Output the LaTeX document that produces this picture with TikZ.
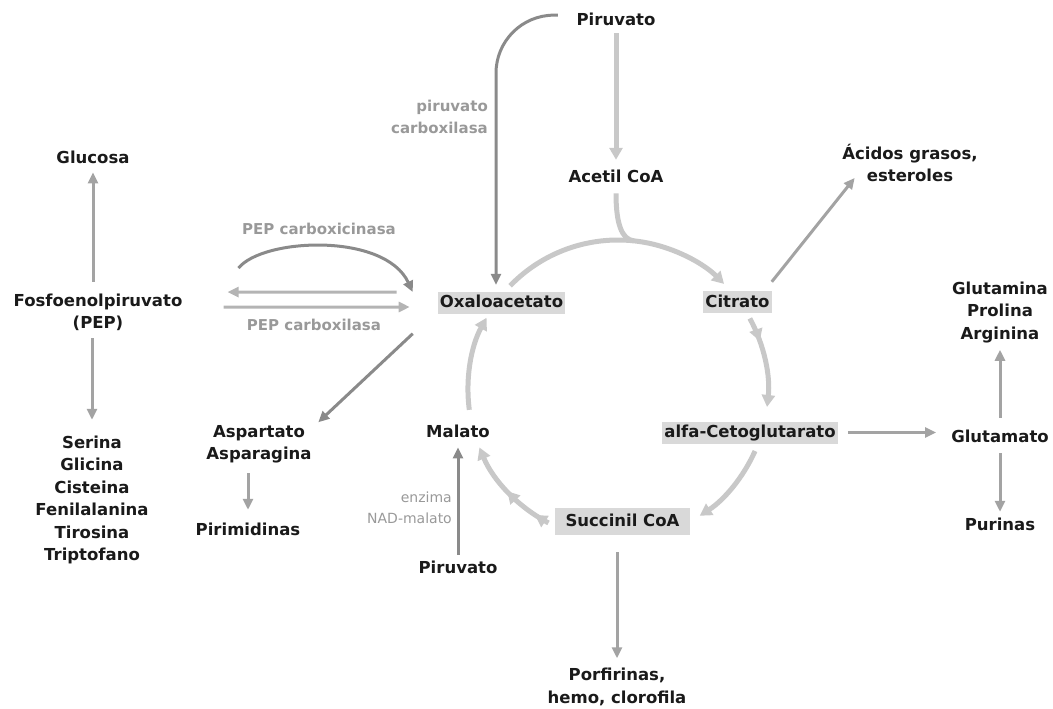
\documentclass[tikz,border=0pt]{standalone}
\usepackage{fontspec}
\setmainfont{DejaVu Sans}
\usetikzlibrary{arrows.meta,calc,decorations.markings}
\definecolor{txt}{HTML}{1A1A1A}
\definecolor{enzgray}{HTML}{999999}
\definecolor{boxgray}{HTML}{D9D9D9}
\definecolor{cycgray}{HTML}{C8C8C8}
\definecolor{medgray}{HTML}{A3A3A3}
\definecolor{pepgray}{HTML}{B4B4B4}
\definecolor{darkgray}{HTML}{8A8A8A}
\begin{document}
\begin{tikzpicture}[x=1pt,y=-1pt,
      lbl/.style={font=\fontsize{16.5}{22.5}\selectfont\bfseries,text=txt,inner sep=0pt,align=center,anchor=base},
      enz/.style={font=\fontsize{15}{22}\selectfont\bfseries,text=enzgray,inner sep=0pt,anchor=base},
      hilite/.style={lbl,anchor=center,fill=boxgray,inner xsep=2pt,inner ysep=4pt,text height=12pt,text depth=2pt},
      ctip/.tip={Triangle[length=12pt,width=13pt]},
      mtip/.tip={Triangle[length=11pt,width=10pt]},
      cycline/.style={color=cycgray,line width=5pt},
      cycarr/.style={cycline,-ctip},
      medarr/.style={color=medgray,line width=3pt,-mtip},
      peparr/.style={color=pepgray,line width=3pt,-mtip},
      darkarr/.style={color=darkgray,line width=3pt,-mtip}]
\useasboundingbox (0,0) rectangle (1053,709);
 \node[lbl] (pirA) at (616,26) {Piruvato};
 \node[lbl] (acetil) at (616,182) {Acetil CoA};
 \node[lbl] (gluc) at (93,163) {Glucosa};
 \node[lbl] (pep) at (98,328.5) {Fosfoenolpiruvato\\(PEP)};
 \node[lbl] (aminos) at (92,560.5) {Serina\\Glicina\\Cisteina\\Fenilalanina\\Tirosina\\Triptofano};
 \node[lbl] (asp) at (259,459.5) {Aspartato\\Asparagina};
 \node[lbl] (pirim) at (248,535) {Pirimidinas};
 \node[hilite] (oxalo) at (501.5,302.5) {Oxaloacetato};
 \node[hilite] (citr) at (737.5,302) {Citrato};
 \node[hilite] (alfa) at (750,432.5) {alfa-Cetoglutarato};
 \node[hilite,inner xsep=11pt,inner ysep=6.5pt] (succ) at (622.5,521.5) {Succinil CoA};
 \node[lbl] (malato) at (458,437) {Malato};
 \node[lbl] (pirB) at (458,573) {Piruvato};
 \node[lbl] (acidos) at (910,181.5) {Ácidos grasos,\\esteroles};
 \node[lbl] (glutm) at (1000,339) {Glutamina\\Prolina\\Arginina};
 \node[lbl] (glut) at (1000,442) {Glutamato};
 \node[lbl] (purin) at (1000,530) {Purinas};
 \node[lbl] (porf) at (617,703) {Porfirinas,\\hemo, clorofila};
 \node[enz,align=right,anchor=base east] (pcarb) at (488,133) {piruvato\\carboxilasa};
 \node[enz] (pepck) at (319,234) {PEP carboxicinasa};
 \node[enz] (pepc) at (314,330) {PEP carboxilasa};
 \node[enz,font=\fontsize{14}{20.5}\selectfont\mdseries,align=right,anchor=base east] (malenz) at (452,523) {enzima\\NAD-malato};
 \coordinate (cyc) at (618,390);
 \coordinate (merge) at ($(cyc)+(-84:150)$);
 \draw[cycarr,shorten <=7pt,shorten >=9.5pt] (pirA) -- (acetil);
 \draw[darkarr,rounded corners=58pt] ([xshift=-18.6pt,yshift=4.7pt]pirA.west) -| ([xshift=-5.5pt,yshift=6.5pt]oxalo.north);
 \draw[cycline] ([yshift=-11pt]acetil.south) .. controls +(0,30) and +(-12,-1.3) .. (merge);
 \draw[cycarr] (cyc) ++(-136:150) arc[start angle=-136,end angle=-45,radius=150];
 \draw[cycarr,postaction={decorate},decoration={markings,mark=at position 0.27 with {\arrow{ctip}}}]
   (cyc) ++(-28.5:150) arc[start angle=-28.5,end angle=6.5,radius=150];
 \draw[cycarr] (cyc) ++(24:150) arc[start angle=24,end angle=57,radius=150];
 \draw[cycarr,postaction={decorate},decoration={markings,mark=at position 0.15 with {\arrow{ctip}},
   mark=at position 0.5 with {\arrow{ctip}}}]
   (cyc) ++(117.6:150) arc[start angle=117.6,end angle=157.5,radius=150];
 \draw[cycarr] (cyc) ++(172.4:150) arc[start angle=172.4,end angle=208.8,radius=150];
 \draw[medarr,shorten <=11.5pt,shorten >=9pt] (pep.north -| gluc.south) -- (gluc.south);
 \draw[medarr,shorten <=7.3pt,shorten >=15.5pt] (pep.south -| aminos.north) -- (aminos.north);
 \draw[darkarr] ([xshift=56pt,yshift=44pt]pep.east) .. controls +(24,-30) and +(-28,-60) .. ([xshift=-25pt,yshift=10.5pt]oxalo.west);
 \draw[peparr] ([xshift=-41pt,yshift=10.5pt]oxalo.west) -- ([xshift=45pt,yshift=20pt]pep.east);
 \draw[peparr] ([xshift=41pt,yshift=5pt]pep.east) -- ([xshift=-28pt,yshift=-4.5pt]oxalo.west);
 \draw[darkarr] ([xshift=-25pt,yshift=-20pt]oxalo.south west) -- ([xshift=6.5pt,yshift=2.5pt]asp.north east);
 \draw[medarr] ([xshift=-11pt,yshift=-10pt]asp.south) -- ([yshift=12.5pt]pirim.north);
 \draw[darkarr,shorten <=5.5pt,shorten >=10pt] (pirB) -- (malato);
 \draw[medarr] ([yshift=9pt]citr.north east) -- ([xshift=12.5pt,yshift=4pt]acidos.south west);
 \draw[medarr,shorten <=10pt,shorten >=15pt] (alfa.east) -- (alfa.east -| glut.west);
 \draw[medarr,shorten <=11.5pt,shorten >=7pt] (glut) -- (glutm);
 \draw[medarr,shorten <=11pt,shorten >=5.5pt] (glut) -- (purin);
 \draw[medarr,shorten <=17pt,shorten >=9.5pt] (succ.south -| porf.north) -- (porf.north);
\end{tikzpicture}
\end{document}
